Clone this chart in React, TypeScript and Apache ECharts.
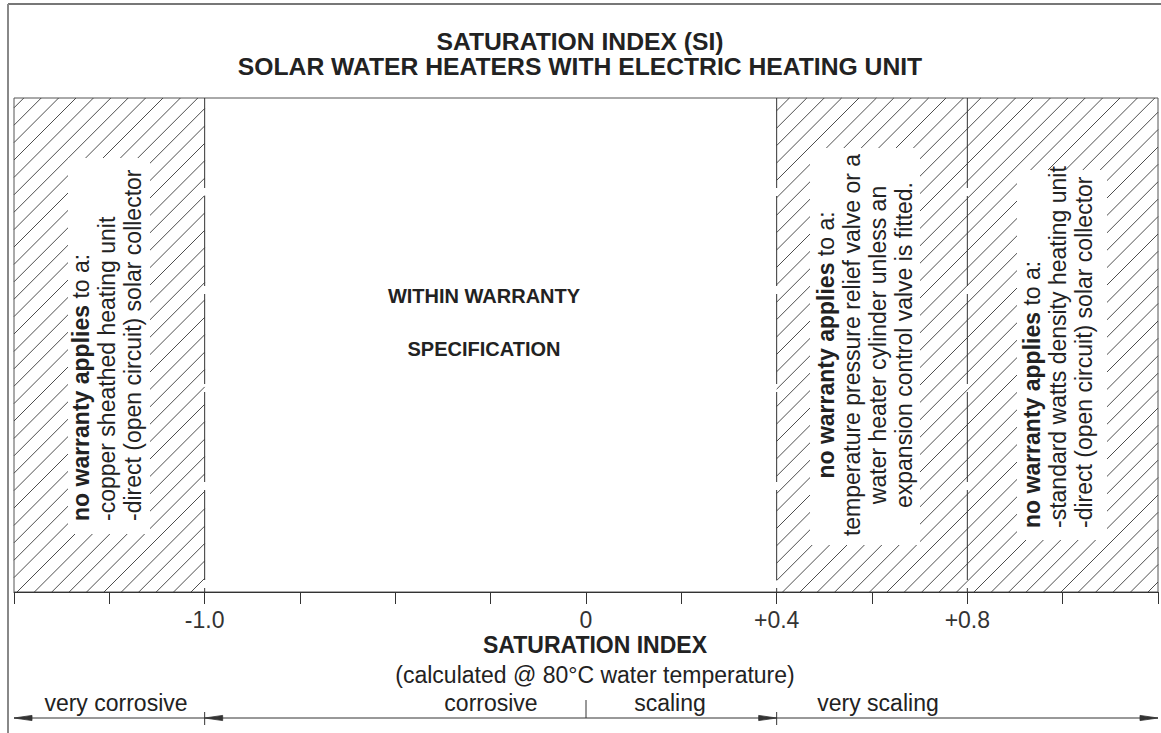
import React, { useEffect, useRef } from "react";
import * as echarts from "echarts";

// ---- data ----
const tickValues = [-1.5, -1.25, -1.0, -0.75, -0.5, -0.25, 0, 0.2, 0.4, 0.6, 0.8, 1.0, 1.2];
const tickLabels = ["", "", "-1.0", "", "", "", "0", "", "+0.4", "", "+0.8", "", ""];
// hatched (no warranty) zones, as tick indices [from, to]
const hatchedZones = [
  [0, 2],
  [8, 10],
  [10, 12],
];
const zoneBoundaries = [2, 8, 10];
const titleLines = ["SATURATION INDEX (SI)", "SOLAR WATER HEATERS WITH ELECTRIC HEATING UNIT"];
const centreLines = ["WITHIN WARRANTY", "SPECIFICATION"];
const axisTitle = "SATURATION INDEX";
const axisSubtitle = "(calculated @ 80°C water temperature)";
const dimensionLabels = ["very corrosive", "corrosive", "scaling", "very scaling"];
const leftNote = ["-copper sheathed heating unit", "-direct (open circuit) solar collector"];
const midNote = [
  "temperature pressure relief valve or a",
  "water heater cylinder unless an",
  "expansion control valve is fitted.",
];
const rightNote = ["-standard watts density heating unit", "-direct (open circuit) solar collector"];

const FONT = "'Liberation Sans', Arial, Helvetica, sans-serif";
const INK = "#222";

export default function App() {
  const ref = useRef<HTMLDivElement>(null);

  useEffect(() => {
    document.body.style.margin = "0";
    if (!ref.current) return;
    const chart = echarts.init(ref.current, undefined, { renderer: "svg" });

    const option: any = {
      animation: false,
      backgroundColor: "#fff",
      grid: {
        left: 14,
        right: 1,
        top: 98,
        bottom: 141,
        show: true,
        borderColor: "#555",
        borderWidth: 1,
        backgroundColor: "transparent",
      },
      xAxis: {
        type: "value",
        min: 0,
        max: tickValues.length - 1,
        interval: 1,
        axisLine: { show: true, onZero: false, lineStyle: { color: "#333", width: 1 } },
        axisTick: { show: true, length: 12, lineStyle: { color: "#333", width: 1 } },
        axisLabel: {
          margin: 16,
          fontSize: 23,
          fontFamily: FONT,
          color: "#333",
          showMinLabel: true,
          showMaxLabel: true,
          formatter: (v: number) => tickLabels[Math.round(v)] ?? "",
        },
        splitLine: { show: false },
      },
      yAxis: { type: "value", min: 0, max: 1, show: false },
      series: [
        {
          type: "custom",
          silent: true,
          clip: false,
          z: 2,
          data: hatchedZones,
          renderItem: (params: any, api: any) => {
            const x0 = api.coord([api.value(0), 0])[0];
            const x1 = api.coord([api.value(1), 0])[0];
            const yTop = api.coord([0, 1])[1];
            const yBot = api.coord([0, 0])[1];
            const step = 17.4;
            const children: any[] = [];
            const cStart = Math.ceil((x0 + yTop) / step) * step;
            for (let c = cStart; c <= x1 + yBot; c += step) {
              const xa = Math.max(x0, c - yBot);
              const xb = Math.min(x1, c - yTop);
              if (xb - xa > 0.5) {
                children.push({
                  type: "line",
                  shape: { x1: xa, y1: c - xa, x2: xb, y2: c - xb },
                  style: { stroke: "#3a3a3a", lineWidth: 0.9 },
                });
              }
            }
            return { type: "group", children };
          },
        },
        {
          type: "custom",
          silent: true,
          clip: false,
          z: 3,
          data: zoneBoundaries.map((v) => [v]),
          renderItem: (params: any, api: any) => {
            const top = api.coord([api.value(0), 1]);
            const bot = api.coord([api.value(0), 0]);
            return {
              type: "line",
              shape: { x1: top[0], y1: top[1], x2: bot[0], y2: bot[1] },
              style: { stroke: "#333", lineWidth: 1, lineDash: [90, 8] },
            };
          },
        },
      ],
    };
    chart.setOption(option);

    const px = (i: number) => chart.convertToPixel({ xAxisIndex: 0 }, i) as number;

    const text = (x: number, y: number, t: string, extra: any = {}, elExtra: any = {}) => ({
      type: "text",
      x,
      y,
      z: 101,
      silent: true,
      ...elExtra,
      style: {
        text: t,
        fontFamily: FONT,
        fontSize: 23,
        fill: INK,
        align: "center",
        verticalAlign: "middle",
        ...extra,
      },
    });

    const rotated = (x: number, y: number, t: string, align: string, rich = false) =>
      text(
        x,
        y,
        t,
        {
          align,
          rich: rich
            ? { b: { fontWeight: "bold", fontSize: 23, fontFamily: FONT, fill: INK } }
            : undefined,
        },
        { rotation: Math.PI / 2 }
      );

    const whiteBox = (x: number, y: number, w: number, h: number) => ({
      type: "rect",
      z: 100,
      silent: true,
      shape: { x, y, width: w, height: h },
      style: { fill: "#fff" },
    });

    const line = (x1: number, y1: number, x2: number, y2: number, stroke = "#333", lineWidth = 1) => ({
      type: "line",
      z: 101,
      silent: true,
      shape: { x1, y1, x2, y2 },
      style: { stroke, lineWidth },
    });

    const arrow = (x: number, y: number, dir: number) => ({
      type: "polygon",
      z: 102,
      silent: true,
      shape: {
        points: [
          [x, y],
          [x - dir * 18, y - 2.6],
          [x - dir * 18, y + 2.6],
        ],
      },
      style: { fill: "#333", stroke: "#333", lineWidth: 0.8 },
    });

    const dimY = 718;
    const noWarranty = "{b|no warranty applies} to a:";

    const graphic: any[] = [
      // outer frame
      line(8, 4, 1161, 4, "#777", 2),
      line(8, 4, 8, 733, "#888", 2),
      // titles
      text(580, 41, titleLines[0], { fontWeight: "bold", fontSize: 24.7 }),
      text(580, 66, titleLines[1], { fontWeight: "bold", fontSize: 24.7 }),
      // centre zone text
      text(484, 296, centreLines[0], { fontWeight: "bold", fontSize: 20 }),
      text(484, 349, centreLines[1], { fontWeight: "bold", fontSize: 20 }),
      // white boxes behind notes
      whiteBox(68, 158, 82, 376),
      whiteBox(810, 148, 110, 397),
      whiteBox(1017, 170, 90, 370),
      // left note
      rotated(81, 521, noWarranty, "left", true),
      rotated(107, 521, leftNote[0], "left"),
      rotated(133, 521, leftNote[1], "left"),
      // middle-right note (centred)
      rotated(826, 345, noWarranty, "center", true),
      rotated(852, 345, midNote[0], "center"),
      rotated(878, 345, midNote[1], "center"),
      rotated(904, 345, midNote[2], "center"),
      // right note
      rotated(1032, 528, noWarranty, "left", true),
      rotated(1058, 528, rightNote[0], "left"),
      rotated(1084, 528, rightNote[1], "left"),
      // axis titles
      text(595, 645, axisTitle, { fontWeight: "bold" }),
      text(595, 675, axisSubtitle),
      // dimension labels
      text(116, 703, dimensionLabels[0]),
      text(491, 703, dimensionLabels[1]),
      text(670, 703, dimensionLabels[2]),
      text(878, 703, dimensionLabels[3]),
      // dimension line
      line(px(0), dimY, px(12), dimY),
      line(px(2), dimY - 6, px(2), dimY + 7),
      line(px(8), dimY - 6, px(8), dimY + 7),
      line(px(6), dimY - 18, px(6), dimY),
      arrow(px(0), dimY, -1),
      arrow(px(2), dimY, -1),
      arrow(px(8), dimY, 1),
      arrow(px(12), dimY, 1),
    ];

    chart.setOption({ graphic });

    return () => chart.dispose();
  }, []);

  return <div ref={ref} style={{ width: 1161, height: 733 }} />;
}
